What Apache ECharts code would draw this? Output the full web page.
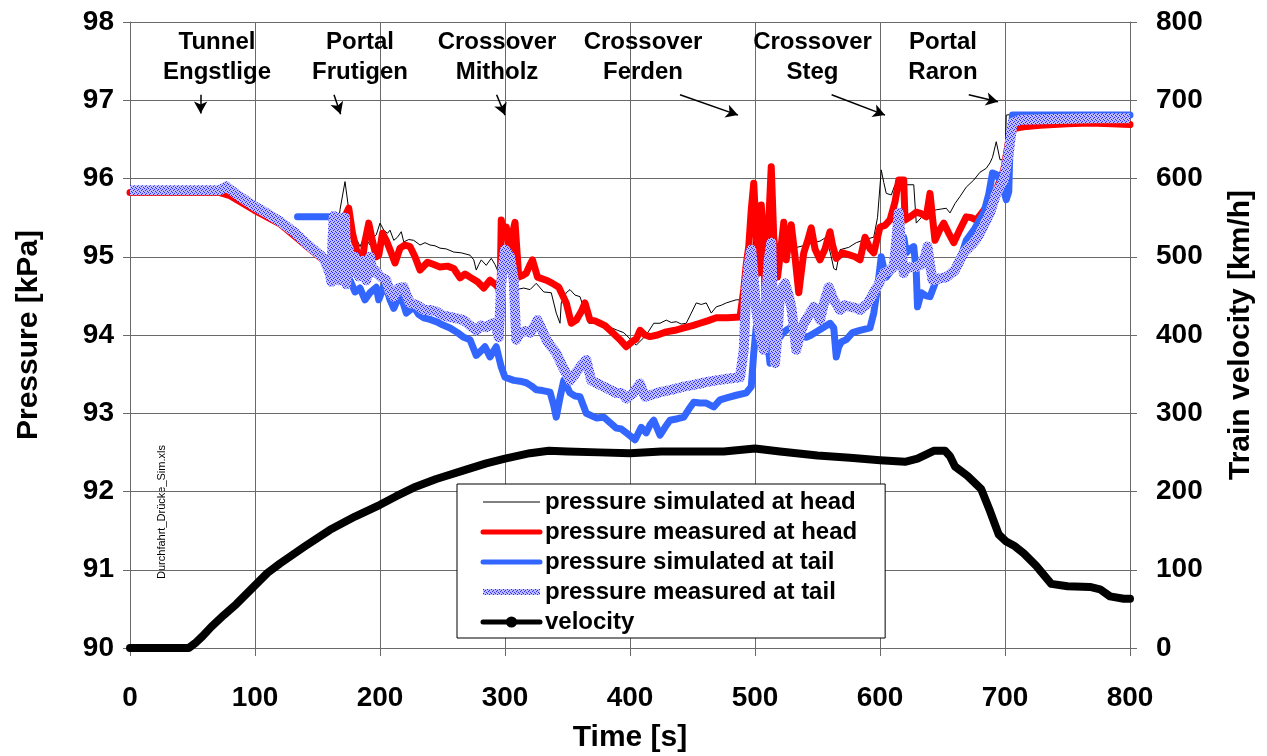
<!DOCTYPE html>
<html>
<head>
<meta charset="utf-8">
<script src="https://cdn.jsdelivr.net/npm/echarts@6/dist/echarts.min.js"></script>
<style>
  html, body { margin: 0; padding: 0; background: #fff; }
  #chart { width: 1267px; height: 756px; }
</style>
</head>
<body>
<div id="chart"></div>
<script>
// time [s] / pressure [kPa] pairs
const simHead = [[0,95.83],[72,95.83],[80,95.79],[99,95.61],[120,95.43],[141,95.15],[155,94.96],[162,94.9],[165,95.2],[168,95.6],[172,95.96],[175,95.6],[179,95.25],[182,95.2],[184,95.13],[187,95.24],[190,95.2],[192,95.15],[195,95.25],[197,95.28],[200,95.43],[203,95.34],[206,95.3],[208,95.34],[211,95.21],[214,95.25],[217,95.32],[219,95.19],[223,95.22],[227,95.21],[232,95.15],[236,95.18],[240,95.15],[244,95.14],[248,95.11],[253,95.1],[259,95.06],[265,95.05],[272,95.02],[275,94.96],[277,94.83],[279,94.9],[281,94.96],[285,94.89],[289,94.98],[292,94.9],[295,94.79],[297,94.7],[299,95.2],[302,95.3],[305,95.1],[307,94.8],[309,94.58],[315,94.6],[320,94.58],[325,94.66],[331,94.55],[337,94.54],[341,94.28],[344,94.15],[345,94.41],[349,94.54],[352,94.58],[356,94.51],[360,94.49],[364,94.29],[367,94.15],[372,94.15],[378,94.12],[384,94.1],[390,94.06],[395,94.03],[400,93.95],[405,93.87],[410,93.95],[415,94.05],[419,94.15],[424,94.15],[429,94.19],[433,94.16],[437,94.17],[441,94.14],[445,94.15],[449,94.28],[453,94.41],[457,94.39],[461,94.41],[465,94.28],[469,94.36],[473,94.38],[477,94.41],[481,94.43],[485,94.45],[490,94.45],[493,94.55],[496,94.9],[500,95.3],[503,95.0],[506,95.2],[509,95.0],[515,95.05],[520,95.09],[528,95.1],[536,95.13],[541,95.15],[547,95.18],[552,95.2],[557,95.25],[561,95.0],[563,94.85],[565,94.83],[568,95.09],[575,95.12],[581,95.18],[588,95.22],[595,95.25],[598,95.5],[601,96.11],[603,95.95],[605,95.81],[609,95.79],[612,95.92],[620,95.92],[627,95.92],[629,95.43],[633,95.5],[637,95.56],[641,95.58],[645,95.6],[649,95.61],[653,95.62],[656,95.56],[660,95.68],[664,95.77],[669,95.89],[675,95.98],[680,96.08],[685,96.13],[688,96.2],[690,96.27],[693,96.47],[696,96.24],[700,96.24],[701,96.81],[705,96.82],[730,96.82],[800,96.82]]

const measHead = [[0,95.82],[40,95.82],[72,95.82],[80,95.78],[99,95.6],[120,95.42],[141,95.14],[155,94.95],[160,94.78],[161,94.72],[162,95.2],[164,95.38],[170,95.45],[175,95.62],[178,95.3],[181,95.1],[185,94.86],[188,95.2],[191,95.43],[194,95.2],[197,95.0],[199,95.02],[202,95.3],[205,95.21],[209,95.05],[212,94.92],[216,95.11],[220,95.15],[224,95.13],[228,95.0],[232,94.83],[238,94.93],[243,94.9],[248,94.87],[254,94.88],[259,94.85],[264,94.73],[268,94.78],[272,94.74],[278,94.68],[283,94.6],[288,94.7],[292,94.65],[295,94.6],[296,94.47],[297,95.47],[299,95.3],[301,95.38],[304,95.02],[306,95.3],[308,95.44],[311,94.74],[314,94.76],[317,94.79],[320,94.9],[322,94.96],[326,94.74],[333,94.7],[338,94.66],[343,94.61],[349,94.41],[353,94.15],[357,94.19],[361,94.3],[364,94.41],[368,94.19],[372,94.18],[376,94.15],[380,94.12],[384,94.06],[388,94.0],[392,93.94],[397,93.85],[402,93.92],[405,93.95],[408,94.06],[412,94.0],[416,93.98],[422,94.0],[429,94.04],[436,94.06],[443,94.09],[450,94.12],[456,94.15],[462,94.18],[469,94.22],[478,94.22],[488,94.23],[491,94.58],[493,94.9],[495,95.13],[497,95.6],[499,95.94],[501,95.3],[503,94.79],[505,95.66],[507,95.2],[508,94.49],[510,95.1],[513,96.15],[515,95.25],[518,94.74],[520,95.0],[523,95.44],[525,94.96],[527,95.2],[529,95.41],[532,95.0],[535,94.54],[537,94.8],[539,95.05],[542,95.2],[545,95.37],[548,95.1],[552,94.96],[556,95.1],[560,95.32],[562,95.15],[565,94.98],[570,95.05],[576,95.02],[580,95.0],[584,94.96],[588,95.25],[592,95.1],[595,95.05],[600,95.38],[604,95.4],[608,95.47],[612,95.7],[615,95.98],[619,95.98],[620,95.47],[625,95.52],[629,95.57],[633,95.55],[637,95.51],[640,95.81],[642,95.5],[644,95.21],[648,95.35],[651,95.43],[655,95.3],[659,95.18],[664,95.35],[669,95.51],[673,95.5],[677,95.47],[681,95.55],[685,95.64],[689,95.72],[693,95.85],[696,95.98],[699,96.11],[701,96.3],[703,96.49],[706,96.6],[708,96.64],[715,96.66],[728,96.68],[750,96.70],[768,96.71],[785,96.7],[800,96.69]]

const simTail = [[134,95.51],[150,95.51],[166,95.51],[170,95.51],[171,94.8],[173,94.64],[176,94.7],[180,94.55],[184,94.6],[188,94.45],[192,94.54],[197,94.61],[199,94.45],[204,94.66],[208,94.45],[211,94.34],[214,94.45],[217,94.49],[221,94.28],[224,94.32],[227,94.36],[231,94.26],[235,94.22],[240,94.2],[245,94.17],[250,94.13],[256,94.09],[262,94.03],[267,93.97],[272,93.94],[277,93.74],[281,93.8],[284,93.85],[288,93.72],[293,93.85],[297,93.59],[300,93.46],[307,93.42],[312,93.41],[317,93.39],[321,93.35],[325,93.3],[330,93.29],[336,93.27],[339,93.1],[341,92.95],[344,93.2],[347,93.42],[352,93.26],[356,93.22],[360,93.21],[365,93.0],[369,92.97],[373,92.94],[379,92.95],[384,92.88],[389,92.81],[393,92.8],[397,92.75],[401,92.7],[404,92.66],[409,92.82],[413,92.75],[416,92.85],[419,92.91],[424,92.72],[428,92.82],[432,92.91],[438,92.93],[443,92.95],[447,93.05],[451,93.14],[456,93.13],[461,93.13],[467,93.08],[472,93.17],[478,93.2],[485,93.23],[493,93.26],[497,93.34],[499,93.77],[501,94.1],[504,94.32],[508,94.23],[512,93.64],[515,93.68],[517,93.9],[521,94.0],[525,94.06],[528,94.09],[534,94.03],[541,93.97],[545,94.0],[549,94.04],[555,94.1],[560,94.15],[563,94.09],[565,93.72],[567,93.85],[569,93.91],[573,93.94],[578,94.03],[584,94.06],[592,94.09],[595,94.28],[598,94.6],[601,95.0],[603,94.85],[605,94.74],[608,94.8],[612,94.87],[616,95.05],[619,95.25],[621,95.05],[624,95.1],[627,95.13],[629,94.8],[630,94.36],[633,94.54],[637,94.5],[640,94.49],[645,94.7],[653,94.72],[659,94.79],[664,94.96],[669,95.21],[675,95.34],[679,95.45],[683,95.56],[687,95.8],[690,96.07],[693,96.05],[696,95.98],[699,95.85],[701,95.73],[703,95.83],[704,96.4],[706,96.81],[728,96.81],[800,96.81]]

const measTail = [[0,95.85],[72,95.85],[77,95.9],[85,95.8],[99,95.65],[110,95.55],[120,95.45],[131,95.32],[141,95.17],[150,95.05],[155,94.98],[160,94.78],[161,94.68],[162,95.2],[163,95.52],[166,95.5],[167,94.7],[169,95.3],[170,95.5],[172,95.5],[173,94.65],[175,95.1],[177,94.8],[180,95.0],[183,94.75],[186,94.95],[189,94.7],[192,95.0],[194,94.8],[196,94.83],[200,94.75],[205,94.7],[208,94.55],[211,94.49],[215,94.6],[219,94.61],[222,94.48],[224,94.41],[230,94.38],[235,94.32],[240,94.32],[245,94.3],[250,94.25],[256,94.23],[262,94.21],[267,94.19],[272,94.12],[277,94.06],[281,94.12],[285,94.1],[290,94.15],[292,94.15],[295,93.97],[297,94.66],[300,95.09],[304,95.0],[307,94.7],[309,93.94],[312,94.03],[316,94.05],[320,94.03],[323,94.1],[326,94.19],[330,94.05],[333,93.94],[337,93.85],[341,93.77],[346,93.6],[352,93.42],[356,93.5],[360,93.59],[365,93.68],[369,93.42],[374,93.38],[379,93.34],[384,93.3],[389,93.26],[393,93.26],[397,93.19],[402,93.25],[408,93.38],[412,93.21],[418,93.24],[424,93.27],[433,93.3],[443,93.34],[450,93.36],[456,93.38],[462,93.4],[469,93.42],[478,93.44],[488,93.46],[491,93.81],[493,94.58],[495,94.9],[497,95.09],[499,94.7],[501,94.32],[504,94.0],[507,93.81],[509,94.5],[511,94.96],[513,95.18],[514,94.5],[516,93.64],[518,94.0],[520,94.54],[524,94.66],[527,94.5],[529,94.36],[531,94.1],[533,93.81],[536,94.0],[539,94.15],[543,94.25],[547,94.36],[552,94.19],[555,94.4],[559,94.61],[563,94.45],[568,94.32],[572,94.38],[576,94.36],[580,94.35],[584,94.32],[590,94.4],[595,94.54],[599,94.65],[603,94.79],[607,94.82],[611,94.87],[613,95.2],[615,95.56],[617,95.1],[619,94.79],[621,94.85],[625,94.87],[629,94.87],[633,94.9],[636,95.0],[638,95.13],[640,94.9],[642,94.7],[647,94.72],[653,94.74],[660,94.83],[667,95.05],[675,95.18],[680,95.3],[684,95.43],[688,95.56],[693,95.81],[699,95.98],[703,96.33],[706,96.71],[712,96.75],[740,96.76],[770,96.77],[800,96.77]]

// time [s] / velocity [km/h]
const velocity = [[0,0],[47,0],[52,6],[58,15],[65,27],[75,42],[85,56],[100,80],[110,96],[120,108],[140,130],[160,151],[180,168],[200,183],[213,194],[227,205],[245,216],[267,227],[285,236],[300,242],[320,249],[335,252],[350,251],[375,250],[400,249],[425,251],[450,251],[475,251],[500,255],[520,251],[550,246],[576,243],[600,240],[620,238],[630,242],[643,252],[652,252],[656,245],[660,232],[670,220],[681,203],[688,175],[695,145],[701,136],[708,130],[715,121],[725,105],[737,82],[750,79],[768,78],[776,75],[784,66],[795,63],[800,63]]

const seriesNames = ['pressure simulated at head', 'pressure measured at head', 'pressure simulated at tail', 'pressure measured at tail', 'velocity']

// place names and their arrows (time, pressure)
const annoText = ['Tunnel\nEngstlige', 'Portal\nFrutigen', 'Crossover\nMitholz', 'Crossover\nFerden', 'Crossover\nSteg', 'Portal\nRaron']
const annoT = [69.6, 184, 293.6, 410.4, 546, 650.4]
const annoP = 97.55
const arrowFrom = [[56.5,97.07],[163.2,97.07],[293.3,97.07],[440,97.07],[561.3,97.07],[671,97.07]]
const arrowTo = [[56.5,96.83],[168.5,96.82],[300,96.81],[486.4,96.81],[604,96.81],[694.4,96.98]]

const font = 'Liberation Sans, Arial, sans-serif'

// dotted blue fill like the excel pattern
const pc = document.createElement('canvas')
pc.width = 4
pc.height = 4
const pctx = pc.getContext('2d')
pctx.fillStyle = '#bcbcff'
pctx.fillRect(0, 0, 4, 4)
pctx.fillStyle = '#2828ff'
pctx.fillRect(0, 0, 1, 1)
pctx.fillRect(2, 1, 1, 1)
pctx.fillRect(1, 2, 1, 1)
pctx.fillRect(3, 3, 1, 1)
const hatch = { image: pc, repeat: 'repeat' }

const chart = echarts.init(document.getElementById('chart'))

const axisCol = '#6a6a6a'
const tickLabel = { fontSize: 28, fontWeight: 'bold', color: '#000', fontFamily: font }
const titleStyle = { fontSize: 30, fontWeight: 'bold', color: '#000', fontFamily: font }
const noDot = { opacity: 0 }

chart.setOption({
  animation: false,
  backgroundColor: '#fff',
  grid: { left: 130, right: 137, top: 22, bottom: 108, containLabel: false, outerBoundsMode: 'none' },
  xAxis: {
    type: 'value', min: 0, max: 800, interval: 100,
    name: 'Time [s]', nameLocation: 'middle', nameGap: 75, nameTextStyle: titleStyle,
    axisLine: { lineStyle: { color: axisCol } },
    axisTick: { length: 8, lineStyle: { color: axisCol } },
    splitLine: { show: true, lineStyle: { color: axisCol } },
    axisLabel: Object.assign({ margin: 36 }, tickLabel)
  },
  yAxis: [{
    type: 'value', min: 90, max: 98, interval: 1,
    name: 'Pressure [kPa]', nameLocation: 'middle', nameGap: 86, nameRotate: 90, nameTextStyle: titleStyle,
    axisLine: { show: true, lineStyle: { color: axisCol } },
    axisTick: { show: true, length: 7, lineStyle: { color: axisCol } },
    splitLine: { show: true, lineStyle: { color: axisCol } },
    axisLabel: Object.assign({ margin: 16 }, tickLabel)
  }, {
    type: 'value', min: 0, max: 800, interval: 100, position: 'right',
    name: 'Train velocity [km/h]', nameLocation: 'middle', nameGap: 96, nameRotate: 90, nameTextStyle: titleStyle,
    axisLine: { show: true, lineStyle: { color: axisCol } },
    axisTick: { show: true, length: 7, lineStyle: { color: axisCol } },
    splitLine: { show: false },
    axisLabel: Object.assign({ margin: 26 }, tickLabel)
  }],
  legend: {
    orient: 'vertical', left: 457, top: 484,
    padding: [5, 28, 3, 23], itemGap: 4, itemWidth: 57, itemHeight: 14,
    backgroundColor: '#fff', borderColor: '#000', borderWidth: 1, borderRadius: 0,
    textStyle: { fontSize: 24, fontWeight: 'bold', color: '#000', fontFamily: font, lineHeight: 26 },
    data: [
      { name: seriesNames[0], lineStyle: { color: '#808080', width: 2 }, itemStyle: noDot },
      { name: seriesNames[1], lineStyle: { width: 5 }, itemStyle: noDot },
      { name: seriesNames[2], lineStyle: { width: 5 }, itemStyle: noDot },
      { name: seriesNames[3], lineStyle: { width: 6 }, itemStyle: noDot },
      { name: seriesNames[4], lineStyle: { width: 5 } }
    ]
  },
  graphic: [{
    type: 'text', x: 162, y: 512, rotation: Math.PI / 2,
    style: { text: 'Durchfahrt_Drücke_Sim.xls', fontSize: 11, fontFamily: font, fill: '#000', align: 'center', verticalAlign: 'middle' }
  }],
  series: [{
    name: seriesNames[0], type: 'line', data: simHead, symbol: 'none', z: 2,
    lineStyle: { color: '#000', width: 1 }, itemStyle: { color: '#000' },
    markLine: {
      silent: true, symbol: ['none', 'arrow'], symbolSize: [10, 12],
      lineStyle: { color: '#000', width: 1.5, type: 'solid' },
      label: { show: false },
      data: arrowFrom.map((a, i) => [{ coord: a }, { coord: arrowTo[i] }])
    },
    markPoint: {
      silent: true, symbol: 'circle', symbolSize: 1, itemStyle: { color: 'rgba(0,0,0,0)' },
      label: { show: true, position: 'inside', formatter: '{b}', fontSize: 24, fontWeight: 'bold', color: '#000', fontFamily: font, lineHeight: 30, align: 'center' },
      data: annoText.map((s, i) => ({ name: s, coord: [annoT[i], annoP] }))
    }
  }, {
    name: seriesNames[1], type: 'line', data: measHead, symbol: 'none', z: 3,
    lineStyle: { color: '#ff0000', width: 7, join: 'round', cap: 'round' }, itemStyle: { color: '#ff0000' }
  }, {
    name: seriesNames[2], type: 'line', data: simTail, symbol: 'none', z: 4,
    lineStyle: { color: '#3366ff', width: 7, join: 'round', cap: 'round' }, itemStyle: { color: '#3366ff' }
  }, {
    name: seriesNames[3], type: 'line', data: measTail, symbol: 'none', z: 5,
    lineStyle: { color: hatch, width: 10, join: 'round' }, itemStyle: { color: hatch }
  }, {
    name: seriesNames[4], type: 'line', data: velocity, yAxisIndex: 1, z: 6,
    symbol: 'circle', showSymbol: false, symbolSize: 9,
    lineStyle: { color: '#000', width: 8, join: 'round', cap: 'round' }, itemStyle: { color: '#000' }
  }]
})
</script>
</body>
</html>
